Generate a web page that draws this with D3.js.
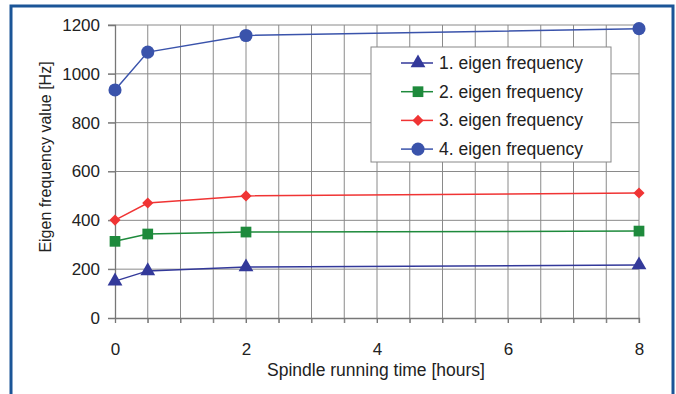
<!DOCTYPE html>
<html>
<head>
<meta charset="utf-8">
<script src="https://cdn.jsdelivr.net/npm/d3@7"></script>
<style>
  body { margin: 0; background: #fff; }
  svg text { font-family: "Liberation Sans", Arial, sans-serif; fill: #222; }
</style>
</head>
<body>
<div id="chart"></div>
<script>
var hours = [0, 0.5, 2, 8];
var freq1 = [151, 193, 209, 217];
var freq2 = [314, 344, 352, 356];
var freq3 = [401, 471, 500, 512];
var freq4 = [934, 1089, 1157, 1185];
var seriesNames = ["1. eigen frequency", "2. eigen frequency", "3. eigen frequency", "4. eigen frequency"];
var yTicks = [0, 200, 400, 600, 800, 1000, 1200];
var xTicks = [0, 2, 4, 6, 8];

var width = 676, height = 394;
var margin = {left: 115, right: 37, top: 25, bottom: 76};

var svg = d3.select("#chart").append("svg")
    .attr("width", width)
    .attr("height", height);

// blue frame
svg.append("rect")
    .attr("x", 11).attr("y", 6)
    .attr("width", 662).attr("height", 400)
    .attr("fill", "none")
    .attr("stroke", "#1b5597")
    .attr("stroke-width", 3);

var x = d3.scaleLinear().domain([0, 8]).range([margin.left, width - margin.right]);
var y = d3.scaleLinear().domain([0, 1200]).range([height - margin.bottom, margin.top]);

var grid = svg.append("g");
grid.selectAll("line.v")
    .data(d3.range(0.5, 8.01, 0.5))
  .enter().append("line")
    .attr("x1", function(d) { return x(d); })
    .attr("x2", function(d) { return x(d); })
    .attr("y1", y(0) + 5)
    .attr("y2", y(1200))
    .attr("stroke", "#8a8a8a")
    .attr("stroke-width", 1);
grid.selectAll("line.h")
    .data(yTicks.slice(1))
  .enter().append("line")
    .attr("x1", x(0) - 7)
    .attr("x2", x(8))
    .attr("y1", function(d) { return y(d); })
    .attr("y2", function(d) { return y(d); })
    .attr("stroke", "#8a8a8a")
    .attr("stroke-width", 1);

// axes
var yAxis = svg.append("g")
    .attr("transform", "translate(" + x(0) + ",0)")
    .call(d3.axisLeft(y).tickValues(yTicks).tickSize(7).tickPadding(8).tickFormat(d3.format("d")));
var xAxis = svg.append("g")
    .attr("transform", "translate(0," + y(0) + ")")
    .call(d3.axisBottom(x).tickValues(d3.range(0, 8.01, 0.5)).tickSize(5).tickPadding(20)
        .tickFormat(function(d) { return xTicks.indexOf(d) >= 0 ? d : ""; }));
[yAxis, xAxis].forEach(function(a) {
    a.attr("font-size", 17).attr("font-family", "Liberation Sans, Arial, sans-serif");
    a.select(".domain").attr("stroke", "#777").attr("stroke-width", 1.3);
    a.selectAll(".tick line").attr("stroke", "#777");
    a.selectAll(".tick text").attr("fill", "#222");
});

svg.append("text")
    .attr("x", (x(0) + x(8)) / 2 - 1)
    .attr("y", 376)
    .attr("text-anchor", "middle")
    .attr("font-size", 17.5)
    .text("Spindle running time [hours]");

svg.append("text")
    .attr("transform", "translate(51,157) rotate(-90)")
    .attr("text-anchor", "middle")
    .attr("font-size", 16)
    .text("Eigen frequency value [Hz]");

var colors = ["#33399a", "#1e8a3c", "#f03434", "#3a53ab"];
var shapes = [d3.symbolTriangle, d3.symbolSquare, d3.symbolSquare, d3.symbolCircle];
var sizes = [95, 115, 62, 135];
var rotations = [0, 0, 45, 0];
var allSeries = [freq1, freq2, freq3, freq4];

var line = d3.line()
    .x(function(d, i) { return x(hours[i]); })
    .y(function(d) { return y(d); });

allSeries.forEach(function(vals, s) {
    svg.append("path")
        .attr("d", line(vals))
        .attr("fill", "none")
        .attr("stroke", colors[s])
        .attr("stroke-width", 1.5);
    svg.selectAll(null)
        .data(vals)
      .enter().append("path")
        .attr("transform", function(d, i) {
            return "translate(" + x(hours[i]) + "," + y(d) + ") rotate(" + rotations[s] + ")";
        })
        .attr("d", d3.symbol().type(shapes[s]).size(sizes[s]))
        .attr("fill", colors[s]);
});

// legend
var legend = svg.append("g").attr("transform", "translate(371,47)");
legend.append("rect")
    .attr("width", 240).attr("height", 115)
    .attr("fill", "#fff")
    .attr("stroke", "#888")
    .attr("stroke-width", 1);
seriesNames.forEach(function(name, s) {
    var row = legend.append("g").attr("transform", "translate(0," + (16 + s * 28.7) + ")");
    row.append("line")
        .attr("x1", 30).attr("x2", 62)
        .attr("stroke", colors[s]).attr("stroke-width", 1.5);
    row.append("path")
        .attr("transform", "translate(47,0) rotate(" + rotations[s] + ")")
        .attr("d", d3.symbol().type(shapes[s]).size(sizes[s]))
        .attr("fill", colors[s]);
    row.append("text")
        .attr("x", 68).attr("y", 6)
        .attr("font-size", 17.5)
        .text(name);
});
</script>
</body>
</html>
